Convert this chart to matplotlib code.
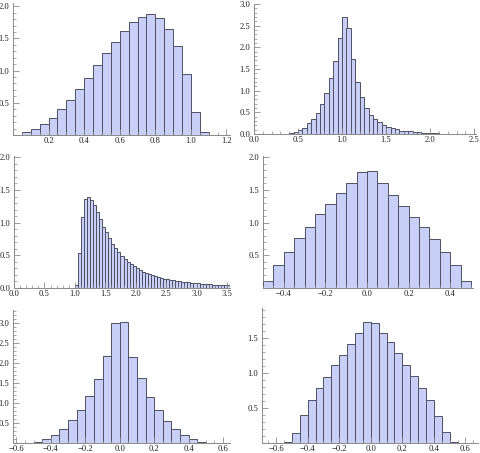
import numpy as np
import matplotlib
matplotlib.use('Agg')
import matplotlib.pyplot as plt
from matplotlib.ticker import MultipleLocator, FixedLocator

# ----------- histogram data (bin width 0.05) --------------------------------
bw = 0.05

# panel 1: skewed to the left
p1_start = 0.05
p1_h = [0.04, 0.09, 0.165, 0.27, 0.40, 0.55, 0.71, 0.89, 1.08, 1.28, 1.45,
        1.62, 1.75, 1.84, 1.88, 1.82, 1.65, 1.38, 0.95, 0.36, 0.04]

# panel 2: peaked around 1.0, long right tail
p2_start = 0.35
p2_h = [0.01, 0.02, 0.05, 0.09, 0.15, 0.25, 0.34, 0.49, 0.69, 0.94, 1.30,
        1.69, 2.21, 2.70, 2.45, 1.73, 1.20, 0.86, 0.60, 0.44, 0.35, 0.27,
        0.21, 0.16, 0.13, 0.11, 0.08, 0.07, 0.06, 0.05, 0.04, 0.03, 0.025,
        0.02, 0.015, 0.01, 0.008, 0.006, 0.005, 0.005, 0.004, 0.004, 0.003]

# panel 3: starts at 1.0, heavy tail
p3_start = 1.0
p3_h = [0.05, 0.53, 1.09, 1.36, 1.40, 1.35, 1.27, 1.16, 1.05, 0.94, 0.85,
        0.76, 0.68, 0.61, 0.55, 0.49, 0.44, 0.40, 0.36, 0.33, 0.30, 0.28,
        0.25, 0.23, 0.21, 0.195, 0.18, 0.165, 0.155, 0.145, 0.135, 0.125,
        0.115, 0.11, 0.10, 0.095, 0.09, 0.085, 0.08, 0.075, 0.07, 0.066,
        0.062, 0.058, 0.055, 0.052, 0.049, 0.046, 0.044, 0.042, 0.04]

# panel 4: triangular-ish on [-0.5, 0.5]
p4_start = -0.5
p4_h = [0.11, 0.35, 0.55, 0.76, 0.93, 1.13, 1.28, 1.45, 1.61, 1.77, 1.79,
        1.60, 1.43, 1.25, 1.08, 0.93, 0.75, 0.55, 0.35, 0.11]

# panel 5: sharp peak at 0
p5_start = -0.55
p5_h = [0.005, 0.03, 0.09, 0.20, 0.35, 0.57, 0.83, 1.17, 1.61, 2.17, 3.00,
        3.02, 2.15, 1.62, 1.15, 0.83, 0.56, 0.36, 0.21, 0.09, 0.03, 0.005]

# panel 6: broad peak at 0
p6_start = -0.55
p6_h = [0.01, 0.15, 0.40, 0.61, 0.79, 0.95, 1.11, 1.26, 1.42, 1.57, 1.73,
        1.72, 1.57, 1.44, 1.28, 1.12, 0.96, 0.79, 0.61, 0.39, 0.16, 0.01]

# ----------- layout (pixels, from top-left of 481x453 figure) --------------
W, H = 481, 453
panels = [
    # start, heights, box(l, r, top, bottom), xlim, ylim, xmin, xlabels, ylabels
    (p1_start, p1_h, (13, 230, 3, 135), (0.0, 1.22), (0, 2.05), 0.05,
     [0.2, 0.4, 0.6, 0.8, 1.0, 1.2], [0.5, 1.0, 1.5, 2.0]),
    (p2_start, p2_h, (254, 476, 4, 134), (0.0, 2.52), (0, 3.0), 0.1,
     [0.0, 0.5, 1.0, 1.5, 2.0, 2.5], [0.0, 0.5, 1.0, 1.5, 2.0, 2.5, 3.0]),
    (p3_start, p3_h, (14, 230, 156, 288), (0.0, 3.55), (0, 2.02), 0.1,
     [0.0, 0.5, 1.0, 1.5, 2.0, 2.5, 3.0, 3.5], [0.0, 0.5, 1.0, 1.5, 2.0]),
    (p4_start, p4_h, (263, 473, 156, 288), (-0.5, 0.51), (0, 2.02), 0.05,
     [-0.4, -0.2, 0.0, 0.2, 0.4], [0.5, 1.0, 1.5, 2.0]),
    (p5_start, p5_h, (13, 230, 310, 443), (-0.62, 0.64), (0, 3.33), 0.05,
     [-0.6, -0.4, -0.2, 0.0, 0.2, 0.4, 0.6], [0.5, 1.0, 1.5, 2.0, 2.5, 3.0]),
    (p6_start, p6_h, (262, 478, 308, 443), (-0.69, 0.68), (0, 1.93), 0.05,
     [-0.6, -0.4, -0.2, 0.0, 0.2, 0.4, 0.6], [0.5, 1.0, 1.5]),
]

plt.rcParams['font.family'] = ['Liberation Serif', 'DejaVu Serif']
plt.rcParams['font.size'] = 6.2

fill = '#c9d0f7'
edge = '#4e5066'
axis_col = '#8a8a8a'

fig = plt.figure(figsize=(W / 100, H / 100), dpi=100)

for start, heights, box, xlim, ylim, xmin, xlabs, ylabs in panels:
    l, r, t, b = box
    ax = fig.add_axes([l / W, 1 - b / H, (r - l) / W, (b - t) / H])
    lefts = start + bw * np.arange(len(heights))
    ax.bar(lefts, heights, width=bw, align='edge', color=fill,
           edgecolor=edge, linewidth=0.7)
    ax.set_xlim(*xlim)
    ax.set_ylim(*ylim)

    for s in ['top', 'right']:
        ax.spines[s].set_visible(False)
    for s in ['left', 'bottom']:
        ax.spines[s].set_color(axis_col)
        ax.spines[s].set_linewidth(0.7)
        ax.spines[s].set_zorder(0.5)

    ax.xaxis.set_major_locator(FixedLocator(xlabs))
    ax.yaxis.set_major_locator(FixedLocator(ylabs))
    ax.xaxis.set_minor_locator(MultipleLocator(xmin))
    ax.yaxis.set_minor_locator(MultipleLocator(0.1))
    ax.set_xticklabels(['%.1f' % v if v >= 0 else '\u2212%.1f' % -v for v in xlabs])
    ax.set_yticklabels(['%.1f' % v for v in ylabs])

    ax.tick_params(which='major', direction='in', length=4, width=0.6,
                   color=axis_col, labelcolor='#222222')
    ax.tick_params(axis='x', which='major', pad=1.5)
    ax.tick_params(axis='y', which='major', pad=2.5)
    ax.tick_params(which='minor', direction='in', length=2, width=0.5,
                   color=axis_col)
    ax.patch.set_alpha(0)

fig.savefig('out.png', dpi=100)
